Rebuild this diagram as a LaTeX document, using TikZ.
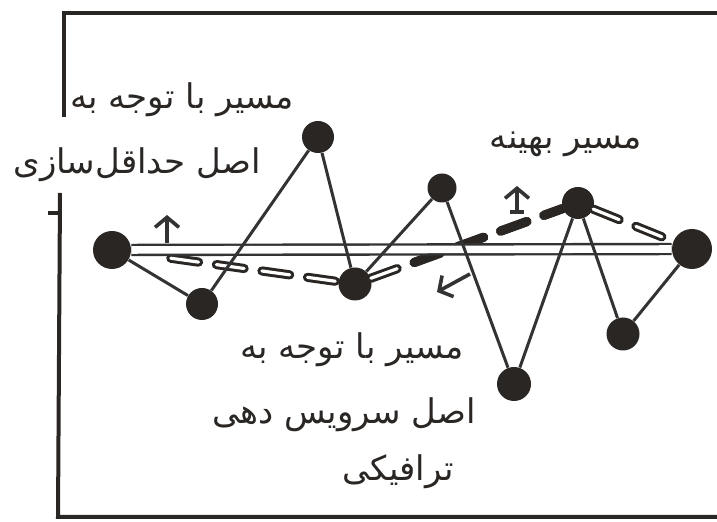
\documentclass[tikz,border=0pt]{standalone}
\usepackage{fontspec}
\usepackage{xcolor}
\usepackage{tikz}
\usetikzlibrary{arrows.meta}
\newfontfamily\farsi[Script=Arabic]{DejaVu Sans}
\TeXXeTstate=1
\definecolor{ink}{HTML}{2A2624}
\definecolor{inkline}{HTML}{333333}

\begin{document}
\begin{tikzpicture}[
  x=0.5pt, y=-0.5pt,
  hub/.style={circle, fill=ink, draw=none, inner sep=0pt, minimum size=#1},
  hub/.default=16pt,
  link/.style={draw=inkline, line width=1.5pt},
  twin/.style={draw=inkline, line width=1.2pt, double=white, double distance=3.8pt},
  hollow/.style={draw=ink, line width=1.5pt, double=white, double distance=1.6pt,
                 line cap=round, dash pattern=on 14pt off 9pt},
  route/.style={draw=ink, line width=4.6pt, line cap=round, dash pattern=on 14pt off 9pt},
  pointer/.style={draw=inkline, line width=1.8pt, -{Straight Barb[length=5pt, width=12pt]}},
  barpointer/.style={pointer, {Bar[width=7pt]}-{Straight Barb[length=5pt, width=12pt]}},
  frame/.style={draw=ink, line width=2pt},
  txt/.style={font=\farsi\fontsize{17}{20}\selectfont, text=ink, inner sep=0pt}
]
\useasboundingbox (0,0) rectangle (717,522);

% frame (open on the right)
\draw[frame] (64,117) -- (64,13) -- (717,13);
\draw[frame] (60,193) -- (58,517) -- (717,517);
\draw[frame] (48,213) -- (59,213);

% stops
\node[hub=19pt]   (src) at (112,250) {};
\node[hub]        (p1)  at (202,304) {};
\node[hub]        (p2)  at (318,137) {};
\node[hub=16.5pt] (p3)  at (355,284) {};
\node[hub=14.5pt] (p4)  at (442,188) {};
\node[hub=17pt]   (p5)  at (514,384) {};
\node[hub]        (p6)  at (578,203) {};
\node[hub=16.5pt] (p7)  at (623,334) {};
\node[hub=20pt]   (dst) at (692,249) {};

% optimal route
\draw[hollow, shorten <=20pt] (src) -- (p3);
\draw[hollow] (p3) -- (p6);
\draw[route, shorten <=23pt] (p3) -- (p6);
\draw[hollow] (p6) -- (dst);

% shortest route
\draw[twin] (src) -- (dst);

% traffic route
\foreach \a/\b in {src/p1, p1/p2, p2/p3, p3/p4, p4/p5, p5/p6, p6/p7, p7/dst}
  \draw[link] (\a) -- (\b);

% pointers
\coordinate (upA) at (167,243);
\coordinate (upF) at (517,214);
\coordinate (dnD) at (470,274);
\draw[pointer] (upA) -- ++(0,-28);
\draw[barpointer] (upF) -- ++(0,-28);
\draw[pointer] (dnD) -- ++(-33,18);

% labels
\node[txt] (min1) at (182,100) {\beginR مسیر با توجه به\endR};
\node[txt] (min2) at (137,165) {\beginR اصل حداقل‌سازی\endR};
\node[txt] (best) at (566,144) {\beginR مسیر بهینه\endR};
\node[txt] (trf1) at (352,350) {\beginR مسیر با توجه به\endR};
\node[txt] (trf2) at (344,415) {\beginR اصل سرویس دهی\endR};
\node[txt] (trf3) at (398,472) {\beginR ترافیکی\endR};

\end{tikzpicture}
\end{document}
